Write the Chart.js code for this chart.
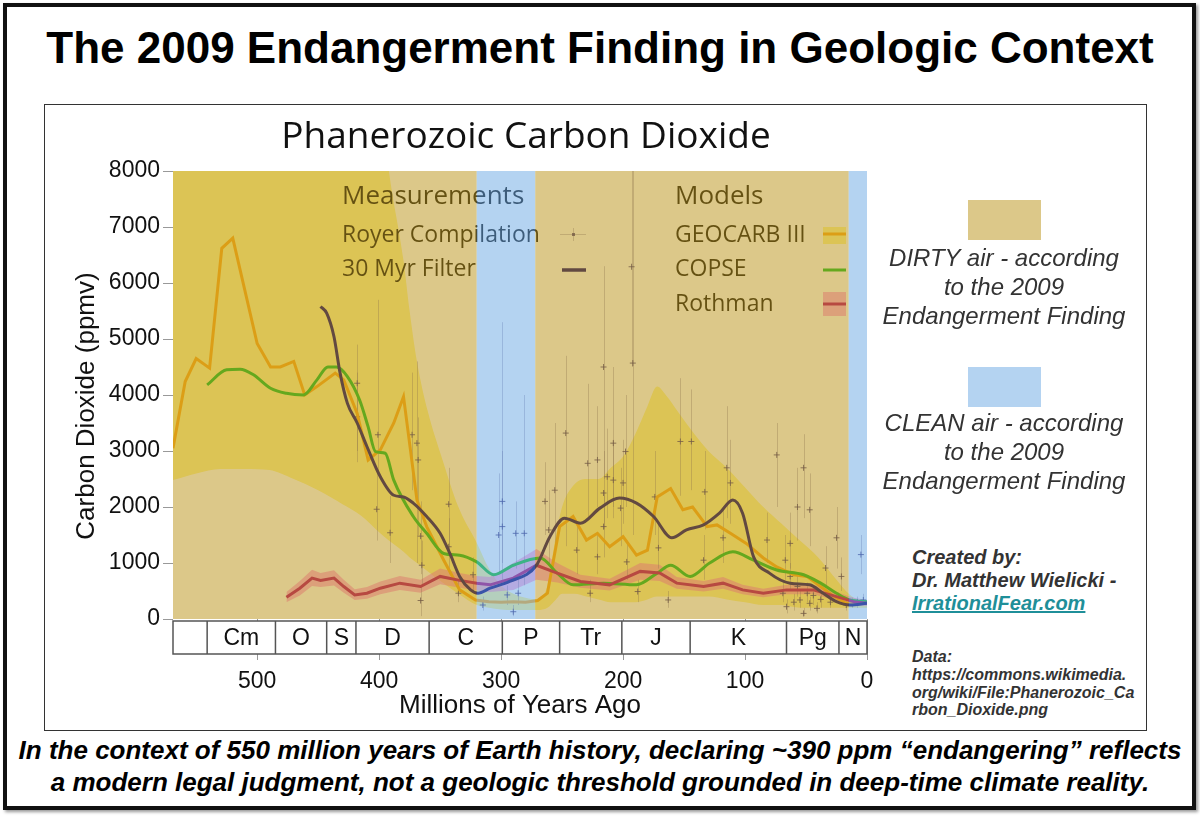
<!DOCTYPE html>
<html><head><meta charset="utf-8">
<script src="https://cdn.jsdelivr.net/npm/chart.js@4.4.0/dist/chart.umd.min.js"></script>
<style>
html,body{margin:0;padding:0;background:#fff;}
body{width:1200px;height:816px;position:relative;overflow:hidden;font-family:"Liberation Sans",Arial,sans-serif;}
#frame{position:absolute;left:3px;top:3px;width:1185px;height:799px;border:4px solid #111;box-shadow:2px 2px 3px #999;}
#title{position:absolute;left:0;top:23px;width:1200px;text-align:center;font-weight:bold;font-size:44px;line-height:50px;color:#000;white-space:nowrap;}
#inner{position:absolute;left:44px;top:104px;width:1101px;height:625px;border:1px solid #333;}
#c{position:absolute;left:45px;top:105px;}
#ctitle{position:absolute;left:226px;width:600px;top:112px;text-align:center;font-family:"Open Sans",sans-serif;font-size:37px;line-height:44px;color:#111;white-space:nowrap;}
.sw{position:absolute;left:968px;width:73px;height:40px;}
.note{position:absolute;left:874px;width:260px;text-align:center;font-style:italic;font-size:24px;line-height:29px;color:#333;white-space:nowrap;}
#credit{position:absolute;left:912px;top:546px;font-weight:bold;font-style:italic;font-size:20px;line-height:23px;color:#333;white-space:nowrap;}
#credit span{color:#1f8f99;text-decoration:underline;}
#data{position:absolute;left:912px;top:648px;font-weight:bold;font-style:italic;font-size:16px;line-height:17.8px;color:#333;white-space:nowrap;}
#caption{position:absolute;left:0;width:1200px;top:735px;text-align:center;font-weight:bold;font-style:italic;font-size:26px;line-height:31.5px;color:#000;white-space:nowrap;}
</style></head>
<body>
<div id="frame"></div>
<div id="title">The 2009 Endangerment Finding in Geologic Context</div>
<div id="inner"></div>
<canvas id="c" width="831" height="624"></canvas>
<div id="ctitle">Phanerozoic Carbon Dioxide</div>
<div class="sw" style="top:200px;background:rgb(220,200,137)"></div>
<div class="note" style="top:243px">DIRTY air - according<br>to the 2009<br>Endangerment Finding</div>
<div class="sw" style="top:367px;background:rgb(180,211,241)"></div>
<div class="note" style="top:408px">CLEAN air - according<br>to the 2009<br>Endangerment Finding</div>
<div id="credit">Created by:<br>Dr. Matthew Wielicki -<br><span>IrrationalFear.com</span></div>
<div id="data">Data:<br>https://commons.wikimedia.<br>org/wiki/File:Phanerozoic_Ca<br>rbon_Dioxide.png</div>
<div id="caption">In the context of 550 million years of Earth history, declaring ~390 ppm “endangering” reflects<br>a modern legal judgment, not a geologic threshold grounded in deep-time climate reality.</div>
<script>
// ---------- DATA ----------
const xTickValues = [500, 400, 300, 200, 100, 0];
const yTickValues = [0, 1000, 2000, 3000, 4000, 5000, 6000, 7000, 8000];

const periodNames = ['Cm','O','S','D','C','P','Tr','J','K','Pg','N'];
const periodStart = [541, 485, 443, 419, 359, 299, 252, 201, 145, 66, 23];
const periodEnd   = [485, 443, 419, 359, 299, 252, 201, 145, 66, 23, 0];

const cleanStart = [320, 15];
const cleanEnd   = [272, 0];

const envAge = [569,550,530,510,490,470,450,430,415,400,392,380,375,369,360,348,335,320,310,300,290,280,270,262,255,250,240,230,220,210,200,190,180,172,165,155,145,130,115,100,85,70,55,40,25,15,5,0];
const envHi  = [12000,12000,12000,12000,12000,12000,11500,11000,10500,9500,8000,6400,5500,4600,3700,2840,2000,1360,900,600,450,380,350,600,1500,2000,2400,2500,2500,2700,2900,3300,3800,4150,4000,3700,3400,3000,2700,2350,2000,1700,1400,1100,700,450,320,300];
const envLo  = [2480,2600,2680,2680,2660,2500,2300,2050,1850,1550,1400,1200,1100,1000,850,650,450,250,200,170,160,160,160,200,350,450,450,400,350,300,300,300,350,400,400,400,400,400,350,300,250,250,200,200,200,200,200,200];

const geoAge = [569,559,550,539,529,520,500,489,481,470,461,451,436,429,418,409,399,388,380,369,361,347,334,321,310,300,290,280,270,262,252,241,230,221,211,200,189,180,172,161,151,143,131,123,112,99,85,74,60,49,38,27,17,0];
const geoCO2 = [3050,4240,4650,4480,6620,6800,4920,4500,4500,4600,4000,4150,4390,4270,3670,2840,3020,3500,3970,2125,1650,1050,520,340,310,300,310,300,330,460,1650,1830,1410,1530,1290,1470,1140,1230,2180,2330,1950,2000,1650,1680,1530,1350,1090,930,790,760,580,400,280,280];

const copAge = [541,525,514,503,489,476,462,451,442,435,426,416,409,403,395,388,372,361,347,334,320,306,290,268,254,241,216,189,172,161,145,129,110,93,74,52,38,25,14,0];
const copCO2 = [4180,4450,4460,4360,4120,4030,4000,4270,4500,4500,4330,3910,3430,2990,2960,2480,1830,1530,1170,1140,1020,790,960,1090,820,610,640,610,820,960,760,1000,1200,1050,875,790,640,460,340,310];

const rothAge = [476,465,455,448,437,429,420,410,399,383,366,350,334,320,309,290,271,254,235,211,186,170,156,134,118,102,85,66,44,25,11,0];
const rothCO2 = [390,550,730,690,730,580,430,460,550,640,580,760,690,640,610,730,960,820,670,610,850,820,640,580,640,520,460,520,520,400,310,280];
const rothLo  = [300,420,590,570,600,470,340,360,440,520,470,620,560,510,480,520,700,650,560,510,700,680,540,490,540,440,390,440,440,330,250,230];
const rothHi  = [480,680,880,820,870,700,530,570,670,770,700,900,820,770,750,1000,1250,1000,790,720,1000,970,750,680,750,610,540,610,610,480,380,340];

const filAge = [448,443,437,432,426,418,410,399,388,380,372,361,350,342,334,325,319,309,293,271,260,248,235,219,203,189,175,160,148,134,121,110,102,93,80,63,47,36,25,14,0];
const filCO2 = [5580,5460,5040,4390,3850,3500,3080,2540,2210,2180,2070,1830,1530,1170,760,520,460,550,670,960,1470,1800,1710,1980,2160,2070,1830,1450,1590,1680,1890,2125,1890,1110,820,640,610,460,310,250,280];

const royerAge = [418,418,401,373,369,368,402,391,366,365, 366,343,343,335,323,302,299,299,288,281, 286,295,290,315,247,256,264,261,229,221, 216,208,213,198,192,193,208,200,216,216, 202,221,197,238,227,188,163,153,144,174, 171,133,134,115,112,118,74,52,57,47, 82,63,67,25,34,21,69,66,55,52, 47,41,63,57,49,60,44,38,17,12, 3,8,30,5];
const royerCO2 = [4210,3610,3290,3290,3140,2840,1960,1540,1480,960, 330,2050,1290,460,790,1500,1650,2100,1530,1530, 460,430,130,250,3320,2300,2100,1590,2780,2840, 4500,3140,2540,2990,4570,6290,2480,2430,2250,1650, 1980,1110,1020,1230,460,490,340,3170,3170,2180, 1270,2270,1050,2700,2430,1450,2930,2700,2000,1950, 1410,1350,1050,1450,910,760,460,220,340,100, 280,190,760,580,460,300,420,350,250,280, 340,300,300,1150];
const royerLo  = [2800,3000,2600,2300,1000,1500,1400,1000,800,600, 50,1200,800,300,500,800,700,1000,900,600, 250,250,50,150,1300,1200,1500,1000,1800,2000, 2500,2000,1800,2000,1500,4500,1800,1700,1600,1100, 1300,800,700,800,300,300,200,2200,2300,1500, 900,1600,700,1800,1700,1000,2000,1800,1400,1300, 1000,900,700,900,600,500,300,100,200,50, 150,100,500,400,300,150,250,200,150,200, 250,200,200,800];
const royerHi  = [4900,4400,5700,4400,4600,3600,2600,2200,2100,1400, 600,2700,1800,700,1100,2600,3000,5300,2100,4000, 700,600,250,400,4700,3500,2800,2300,4200,3800, 6300,4500,3400,4000,8500,8000,3200,3200,3000,2300, 2700,1500,1400,1700,700,700,500,4300,4100,3000, 1700,3000,1500,3800,3200,2000,3500,3300,2700,2600, 1900,1900,1500,2000,1300,1100,650,350,500,200, 400,300,1000,800,650,450,600,500,350,380, 450,400,420,1500];

// ---------- STYLE ----------
const COL = {
  env: 'rgb(255,246,150)',
  geo: 'rgb(255,170,25)',
  cop: 'rgb(16,190,40)',
  roth: 'rgb(180,0,110)',
  rothBand: 'rgba(255,110,200,0.55)',
  fil: 'rgb(10,0,110)',
  royer: 'rgba(50,40,120,0.8)',
  royerBar: 'rgba(90,80,130,0.33)',
  dirty: 'rgba(185,145,20,0.5)',
  clean: 'rgba(105,167,227,0.5)'
};
const xy = (a, v) => a.map((t, i) => ({x: t, y: v[i]}));
const ROYER = 4;

const geoPlugin = {
  id: 'geo',
  beforeDatasetDraw(chart, args) {
    if (args.index !== ROYER) return;
    const {ctx, chartArea: ca, scales: {x, y}} = chart;
    ctx.save();
    ctx.beginPath(); ctx.rect(ca.left, ca.top, ca.width, ca.height); ctx.clip();
    ctx.strokeStyle = COL.royerBar; ctx.lineWidth = 1;
    ctx.beginPath();
    royerAge.forEach((a, i) => {
      const px = Math.round(x.getPixelForValue(a)) + 0.5;
      ctx.moveTo(px, y.getPixelForValue(royerLo[i]));
      ctx.lineTo(px, y.getPixelForValue(royerHi[i]));
    });
    ctx.stroke();
    ctx.restore();
  },
  afterDatasetsDraw(chart) {
    const {ctx, chartArea: ca, scales: {x}} = chart;
    const L = ca.left, T = ca.top;
    const ds = chart.data.datasets;
    ctx.save();
    // legend (part of the original chart, under the overlay)
    ctx.fillStyle = '#111'; ctx.textAlign = 'left'; ctx.textBaseline = 'alphabetic';
    ctx.font = '26px "Open Sans"';
    ctx.fillText('Measurements', L + 169, T + 33);
    ctx.fillText('Models', L + 502, T + 33);
    ctx.font = '23px "Open Sans"';
    ctx.fillText(ds[ROYER].label, L + 169, T + 71);
    ctx.fillText(ds[8].label, L + 169, T + 105);
    ctx.fillText(ds[5].label, L + 502, T + 71);
    ctx.fillText(ds[6].label, L + 502, T + 105);
    ctx.fillText(ds[7].label, L + 502, T + 140);
    // markers
    ctx.strokeStyle = COL.royerBar; ctx.lineWidth = 1;
    ctx.beginPath();
    ctx.moveTo(L + 387, T + 63.5); ctx.lineTo(L + 413, T + 63.5);
    ctx.moveTo(L + 400.5, T + 57); ctx.lineTo(L + 400.5, T + 70);
    ctx.stroke();
    ctx.fillStyle = COL.royer; ctx.fillRect(L + 399, T + 62, 3, 3);
    ctx.lineWidth = 3.5; ctx.lineCap = 'butt';
    ctx.strokeStyle = COL.fil;
    ctx.beginPath(); ctx.moveTo(L + 389, T + 99); ctx.lineTo(L + 413, T + 99); ctx.stroke();
    ctx.fillStyle = COL.env; ctx.fillRect(L + 650, T + 56, 23, 17);
    ctx.fillStyle = COL.rothBand; ctx.fillRect(L + 650, T + 121, 23, 24);
    ctx.lineWidth = 3;
    ctx.strokeStyle = COL.geo;
    ctx.beginPath(); ctx.moveTo(L + 650, T + 63); ctx.lineTo(L + 673, T + 63); ctx.stroke();
    ctx.strokeStyle = COL.cop;
    ctx.beginPath(); ctx.moveTo(L + 650, T + 99); ctx.lineTo(L + 673, T + 99); ctx.stroke();
    ctx.strokeStyle = COL.roth;
    ctx.beginPath(); ctx.moveTo(L + 650, T + 133); ctx.lineTo(L + 673, T + 133); ctx.stroke();
    // DIRTY / CLEAN overlay
    let cursor = ca.left;
    cleanStart.forEach((s, i) => {
      const p1 = x.getPixelForValue(s), p2 = x.getPixelForValue(cleanEnd[i]);
      ctx.fillStyle = COL.dirty; ctx.fillRect(cursor, ca.top, p1 - cursor, ca.height);
      ctx.fillStyle = COL.clean; ctx.fillRect(p1, ca.top, p2 - p1, ca.height);
      cursor = p2;
    });
    if (cursor < ca.right) { ctx.fillStyle = COL.dirty; ctx.fillRect(cursor, ca.top, ca.right - cursor, ca.height); }
    ctx.restore();
  },
  afterDraw(chart) {
    const {ctx, chartArea: ca, scales: {x}} = chart;
    const top = ca.bottom + 2, h = 33;
    ctx.save();
    ctx.fillStyle = '#fff';
    ctx.fillRect(ca.left, top, ca.width, h);
    ctx.strokeStyle = '#555'; ctx.lineWidth = 1.5;
    ctx.strokeRect(ca.left, top, ca.width, h);
    ctx.beginPath();
    periodStart.forEach(s => { const p = x.getPixelForValue(s); ctx.moveTo(p, top); ctx.lineTo(p, top + h); });
    ctx.stroke();
    ctx.fillStyle = '#111'; ctx.font = '23px "Liberation Sans"';
    ctx.textAlign = 'center'; ctx.textBaseline = 'middle';
    periodNames.forEach((n, i) => {
      const p = (x.getPixelForValue(periodStart[i]) + x.getPixelForValue(periodEnd[i])) / 2;
      ctx.fillText(n, p, top + h / 2 + 1);
    });
    // y-axis title
    ctx.save();
    ctx.translate(42, (ca.top + ca.bottom) / 2 + 11);
    ctx.rotate(-Math.PI / 2);
    ctx.font = '26px "Liberation Sans"';
    ctx.fillText('Carbon Dioxide (ppmv)', 0, 0);
    ctx.restore();
    ctx.restore();
  }
};

Chart.defaults.font.family = '"Liberation Sans", Arial, sans-serif';
const lineDs = (label, a, v, color, tension, order) => ({
  label, data: xy(a, v), borderColor: color, borderWidth: 3, pointRadius: 0,
  fill: false, tension, cubicInterpolationMode: tension ? 'monotone' : 'default', order
});

new Chart(document.getElementById('c'), {
  type: 'line',
  data: {
    datasets: [
      {label: 'GEOCARB envelope high', data: xy(envAge, envHi), fill: '+1', backgroundColor: COL.env, borderWidth: 0, pointRadius: 0, cubicInterpolationMode: 'monotone', tension: 0.4, order: 10},
      {label: 'GEOCARB envelope low', data: xy(envAge, envLo), fill: false, borderWidth: 0, pointRadius: 0, cubicInterpolationMode: 'monotone', tension: 0.4, order: 10},
      {label: 'Rothman high', data: xy(rothAge, rothHi), fill: '+1', backgroundColor: COL.rothBand, borderWidth: 0, pointRadius: 0, order: 8},
      {label: 'Rothman low', data: xy(rothAge, rothLo), fill: false, borderWidth: 0, pointRadius: 0, order: 8},
      {label: 'Royer Compilation', data: xy(royerAge, royerCO2), showLine: false, pointStyle: 'cross', pointRadius: 3, borderWidth: 1, borderColor: COL.royer, order: 7},
      lineDs('GEOCARB III', geoAge, geoCO2, COL.geo, 0, 4),
      lineDs('COPSE', copAge, copCO2, COL.cop, 0.4, 3),
      lineDs('Rothman', rothAge, rothCO2, COL.roth, 0, 2),
      lineDs('30 Myr Filter', filAge, filCO2, COL.fil, 0.4, 1)
    ]
  },
  options: {
    responsive: false, animation: false, devicePixelRatio: 1,
    layout: {padding: {top: 66, right: 9, left: 0, bottom: 0}},
    plugins: {legend: {display: false}, tooltip: {enabled: false}},
    scales: {
      x: {
        type: 'linear', reverse: true, min: 0, max: 569,
        afterBuildTicks: s => { s.ticks = xTickValues.map(v => ({value: v})); },
        ticks: {padding: 8, color: '#111', font: {size: 23}, maxRotation: 0, callback: v => String(v)},
        grid: {drawOnChartArea: false, drawTicks: true, tickLength: 41, color: '#999'},
        border: {display: false},
        title: {display: true, text: 'Millions of Years Ago', color: '#111', font: {size: 26}, padding: {top: 0, bottom: 8}},
        afterFit: s => { s.height = 110; s.paddingLeft = 0; s.paddingRight = 0; }
      },
      y: {
        min: 0, max: 8000,
        afterBuildTicks: s => { s.ticks = yTickValues.map(v => ({value: v})); },
        ticks: {padding: 3, color: '#111', font: {size: 23}, callback: v => String(v)},
        grid: {drawOnChartArea: false, drawTicks: true, tickLength: 10, color: '#999'},
        border: {display: false},
        afterFit: s => { s.width = 128; }
      }
    }
  },
  plugins: [geoPlugin]
});
</script>
</body></html>
